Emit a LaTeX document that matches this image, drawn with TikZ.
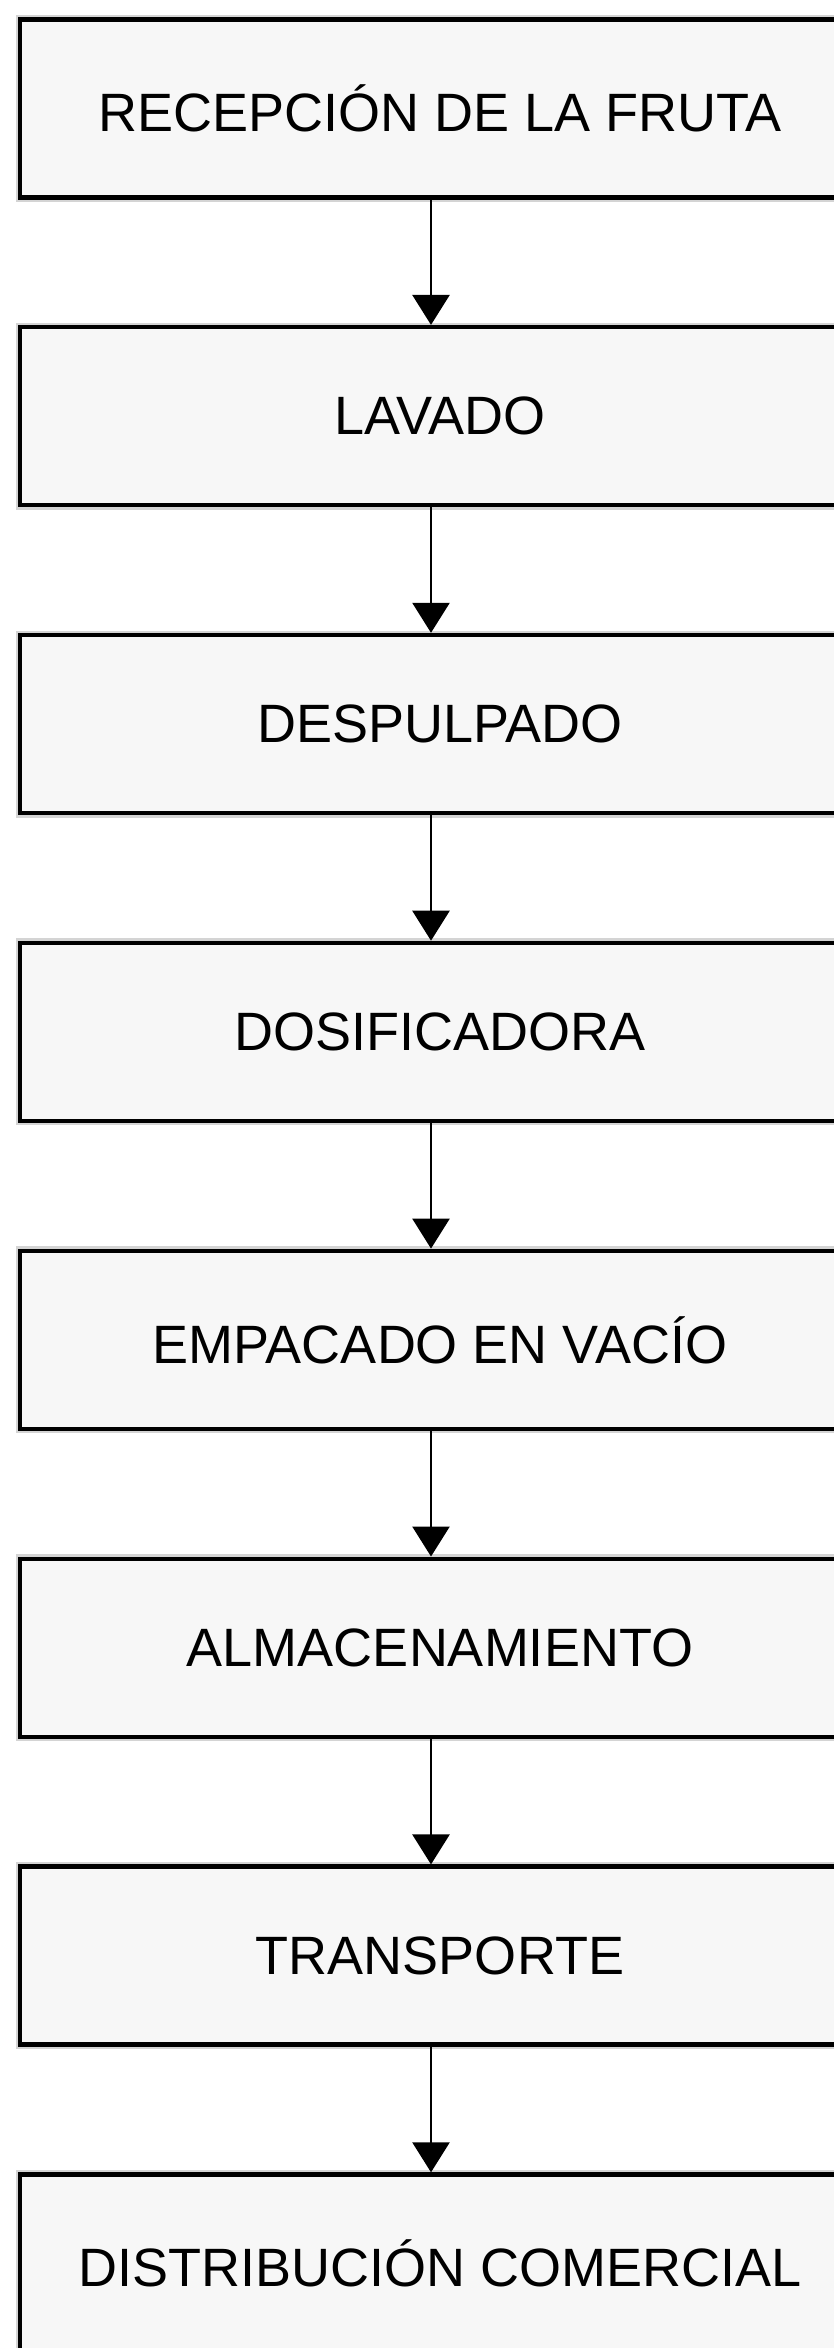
\documentclass[tikz,border=0pt]{standalone}
\usepackage{fontspec}
\setmainfont{Liberation Sans}
\usetikzlibrary{arrows.meta}
\definecolor{boxfill}{HTML}{F7F7F7}
\definecolor{halo}{HTML}{D4D4D4}
\tikzset{
  stepbox/.style={draw=black, line width=4.5pt, fill=boxfill,
    preaction={draw=halo, line width=9pt},
    rectangle, minimum width=840pt, minimum height=178pt, inner sep=0pt,
    font=\fontsize{54}{60}\selectfont, anchor=north},
  flow/.style={line width=2.6pt, -{Triangle[width=37pt,length=30pt]}}
}
\begin{document}
\begin{tikzpicture}[x=1pt,y=-1pt]
\useasboundingbox (0,0) rectangle (834,2348);
\fill[white] (0,0) rectangle (834,2348);
\clip (0,0) rectangle (834,2348);
\node[stepbox] (b1) at (440,17) {RECEPCIÓN DE LA FRUTA};
\node[stepbox] (b2) at (440,324.9) {LAVADO};
\node[stepbox] (b3) at (440,632.8) {DESPULPADO};
\node[stepbox] (b4) at (440,940.7) {DOSIFICADORA};
\node[stepbox] (b5) at (440,1248.6) {EMPACADO EN VACÍO};
\node[stepbox] (b6) at (440,1556.5) {ALMACENAMIENTO};
\node[stepbox] (b7) at (440,1864.4) {TRANSPORTE};
\node[stepbox] (b8) at (440,2172.3) {DISTRIBUCIÓN COMERCIAL};
\coordinate (ax) at (431,0);
\foreach \a/\b in {b1/b2,b2/b3,b3/b4,b4/b5,b5/b6,b6/b7,b7/b8}
  \draw[flow] (\a.south -| ax) -- (\b.north -| ax);
\end{tikzpicture}
\end{document}
